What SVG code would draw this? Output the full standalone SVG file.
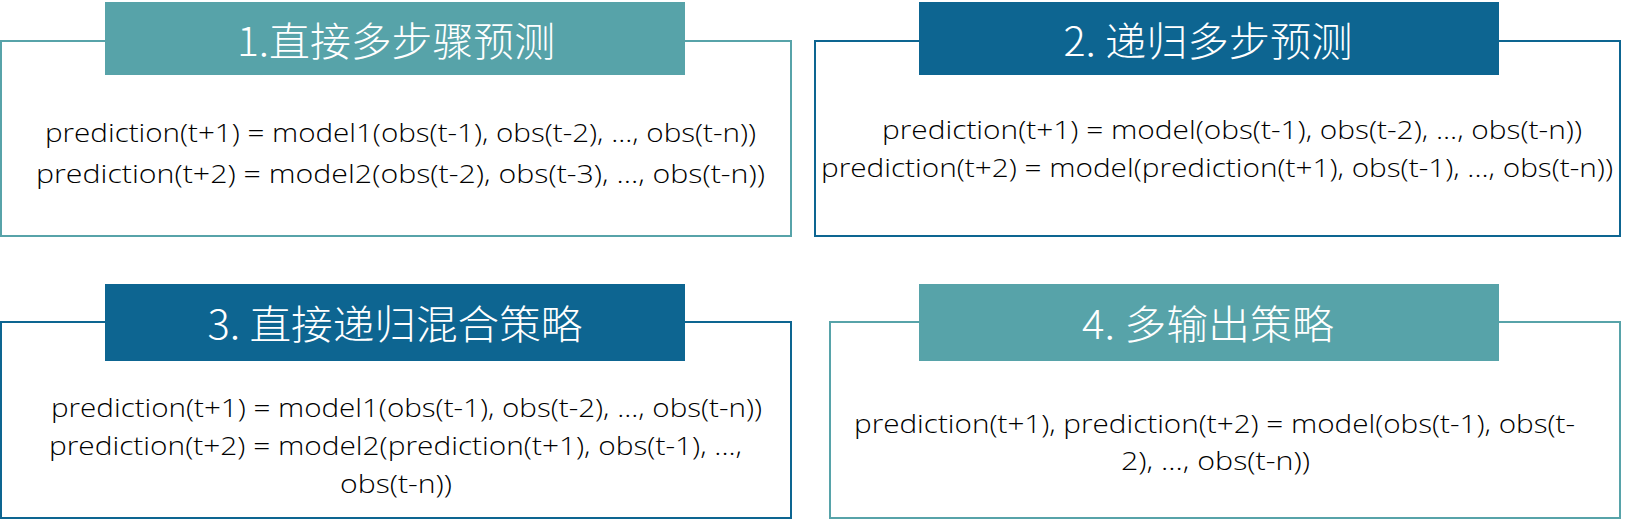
<svg xmlns="http://www.w3.org/2000/svg" width="1632" height="520" viewBox="0 0 1632 520">
<style>
.bg{fill:#ffffff}
.box{fill:#ffffff;stroke-width:2}
.teal .box{stroke:#57A3A9}
.blue .box{stroke:#0D6591}
.teal .bar{fill:#57A3A9}
.blue .bar{fill:#0D6591}
.title{font-family:"Noto Sans CJK SC","Open Sans",sans-serif;font-weight:300;font-size:40px;fill:#ffffff;text-anchor:middle}
.body{font-family:"Open Sans","Noto Sans",sans-serif;font-weight:300;font-size:26.5px;fill:#000000}
</style>
<rect class="bg" x="0" y="0" width="1632" height="520"/>
<g id="connectors"/>
<g id="node1" class="teal">
<rect class="box" x="1" y="41" width="790" height="195"/>
<rect class="bar" x="105" y="2" width="580" height="73"/>
<text class="title" x="396" y="56" textLength="318" lengthAdjust="spacingAndGlyphs">1.直接多步骤预测</text>
<text class="body" x="45" y="142" textLength="711" lengthAdjust="spacingAndGlyphs">prediction(t+1) = model1(obs(t-1), obs(t-2), ..., obs(t-n))</text>
<text class="body" x="36" y="183" textLength="729" lengthAdjust="spacingAndGlyphs">prediction(t+2) = model2(obs(t-2), obs(t-3), ..., obs(t-n))</text>
</g>
<g id="node2" class="blue">
<rect class="box" x="815" y="41" width="805" height="195"/>
<rect class="bar" x="919" y="2" width="580" height="73"/>
<text class="title" x="1208" y="56" textLength="289" lengthAdjust="spacingAndGlyphs">2. 递归多步预测</text>
<text class="body" x="882" y="139" textLength="700" lengthAdjust="spacingAndGlyphs">prediction(t+1) = model(obs(t-1), obs(t-2), ..., obs(t-n))</text>
<text class="body" x="821" y="177" textLength="792" lengthAdjust="spacingAndGlyphs">prediction(t+2) = model(prediction(t+1), obs(t-1), ..., obs(t-n))</text>
</g>
<g id="node3" class="blue">
<rect class="box" x="1" y="322" width="790" height="196"/>
<rect class="bar" x="105" y="284" width="580" height="77"/>
<text class="title" x="395" y="339" textLength="375" lengthAdjust="spacingAndGlyphs">3. 直接递归混合策略</text>
<text class="body" x="51" y="417" textLength="711" lengthAdjust="spacingAndGlyphs">prediction(t+1) = model1(obs(t-1), obs(t-2), ..., obs(t-n))</text>
<text class="body" x="49" y="455" textLength="693" lengthAdjust="spacingAndGlyphs">prediction(t+2) = model2(prediction(t+1), obs(t-1), ...,</text>
<text class="body" x="340" y="493" textLength="112" lengthAdjust="spacingAndGlyphs">obs(t-n))</text>
</g>
<g id="node4" class="teal">
<rect class="box" x="830" y="322" width="790" height="196"/>
<rect class="bar" x="919" y="284" width="580" height="77"/>
<text class="title" x="1208" y="339" textLength="252" lengthAdjust="spacingAndGlyphs">4. 多输出策略</text>
<text class="body" x="854" y="433" textLength="721" lengthAdjust="spacingAndGlyphs">prediction(t+1), prediction(t+2) = model(obs(t-1), obs(t-</text>
<text class="body" x="1121" y="470" textLength="189" lengthAdjust="spacingAndGlyphs">2), ..., obs(t-n))</text>
</g>
</svg>
